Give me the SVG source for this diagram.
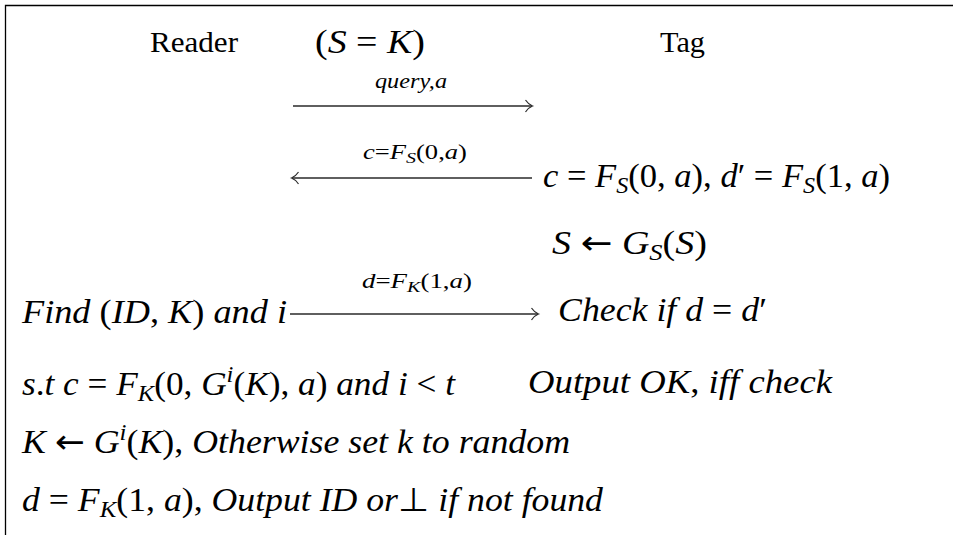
<svg xmlns="http://www.w3.org/2000/svg" width="953" height="535" viewBox="0 0 953 535">
<style>
text{fill:#000;white-space:pre}
.h{font-size:30px}
.m{font-size:33px}
.l{font-size:20px}
.i{font-style:italic}
.s{font-size:23px}
.ls{font-size:15px}
.ar{font-family:"DejaVu Sans",sans-serif;font-style:normal}
.frame{stroke:#000;stroke-width:1.3;fill:none}
.conn{stroke:#2a2a2a;stroke-width:1.3;fill:none}
</style>
<defs>
<marker id="ah" markerWidth="14" markerHeight="14" refX="10" refY="7" orient="auto" markerUnits="userSpaceOnUse">
<path d="M3.5,1 Q6.5,5.5 10.5,7 Q6.5,8.5 3.5,13" fill="none" stroke="#2a2a2a" stroke-width="1.2"/>
</marker>
</defs>
<rect width="953" height="535" fill="#fff"/>
<g id="frame"><path class="frame" d="M5.5,535 V5.5 H953"/></g>

<g id="header" font-family="Liberation Serif, serif">
<text id="reader" class="h" x="150" y="52" textLength="88" lengthAdjust="spacingAndGlyphs">Reader</text>
<text id="init" class="m" x="315" y="53" textLength="110" lengthAdjust="spacingAndGlyphs">(<tspan class="i">S</tspan> = <tspan class="i">K</tspan>)</text>
<text id="tag" class="h" x="660" y="52" textLength="45" lengthAdjust="spacingAndGlyphs">Tag</text>
</g>

<g id="connectors" font-family="Liberation Serif, serif">
<line class="conn" x1="293" y1="106" x2="532" y2="106" marker-end="url(#ah)"/>
<line class="conn" x1="532" y1="178" x2="292" y2="178" marker-end="url(#ah)"/>
<line class="conn" x1="290" y1="314" x2="538" y2="314" marker-end="url(#ah)"/>
<text class="l i" x="375" y="88" textLength="72" lengthAdjust="spacingAndGlyphs">query,a</text>
<text class="l" x="363" y="159" textLength="104" lengthAdjust="spacingAndGlyphs"><tspan class="i">c</tspan>=<tspan class="i">F</tspan><tspan class="i ls" dy="4">S</tspan><tspan dy="-4">(0,</tspan><tspan class="i">a</tspan>)</text>
<text class="l" x="362" y="288" textLength="110" lengthAdjust="spacingAndGlyphs"><tspan class="i">d</tspan>=<tspan class="i">F</tspan><tspan class="i ls" dy="4">K</tspan><tspan dy="-4">(1,</tspan><tspan class="i">a</tspan>)</text>
</g>

<g id="tag-compute" font-family="Liberation Serif, serif">
<text class="m" x="543" y="187" textLength="347" lengthAdjust="spacingAndGlyphs"><tspan class="i">c</tspan> = <tspan class="i">F</tspan><tspan class="i s" dy="6">S</tspan><tspan dy="-6">(0, </tspan><tspan class="i">a</tspan>), <tspan class="i">d</tspan>′ = <tspan class="i">F</tspan><tspan class="i s" dy="6">S</tspan><tspan dy="-6">(1, </tspan><tspan class="i">a</tspan>)</text>
</g>
<g id="tag-update" font-family="Liberation Serif, serif">
<text class="m" x="552" y="254" textLength="155" lengthAdjust="spacingAndGlyphs"><tspan class="i">S</tspan> <tspan class="ar">←</tspan> <tspan class="i">G</tspan><tspan class="i s" dy="6">S</tspan><tspan dy="-6">(</tspan><tspan class="i">S</tspan>)</text>
</g>
<g id="reader-find" font-family="Liberation Serif, serif">
<text class="m" x="22" y="323" textLength="265" lengthAdjust="spacingAndGlyphs"><tspan class="i">Find</tspan> (<tspan class="i">ID</tspan>, <tspan class="i">K</tspan>) <tspan class="i">and i</tspan></text>
</g>
<g id="tag-check" font-family="Liberation Serif, serif">
<text class="m" x="558" y="321" textLength="209" lengthAdjust="spacingAndGlyphs"><tspan class="i">Check if d</tspan> = <tspan class="i">d</tspan>′</text>
</g>
<g id="reader-st" font-family="Liberation Serif, serif">
<text class="m" x="22" y="395" textLength="433" lengthAdjust="spacingAndGlyphs"><tspan class="i">s</tspan>.<tspan class="i">t c</tspan> = <tspan class="i">F</tspan><tspan class="i s" dy="6">K</tspan><tspan dy="-6">(0, </tspan><tspan class="i">G</tspan><tspan class="i s" dy="-13">i</tspan><tspan dy="13">(</tspan><tspan class="i">K</tspan>), <tspan class="i">a</tspan>) <tspan class="i">and i</tspan> &lt; <tspan class="i">t</tspan></text>
</g>
<g id="tag-output" font-family="Liberation Serif, serif">
<text class="m" x="528" y="393" textLength="304" lengthAdjust="spacingAndGlyphs"><tspan class="i">Output OK</tspan>, <tspan class="i">iff check</tspan></text>
</g>
<g id="reader-update" font-family="Liberation Serif, serif">
<text class="m" x="22" y="453" textLength="548" lengthAdjust="spacingAndGlyphs"><tspan class="i">K</tspan> <tspan class="ar">←</tspan> <tspan class="i">G</tspan><tspan class="i s" dy="-13">i</tspan><tspan dy="13">(</tspan><tspan class="i">K</tspan>), <tspan class="i">Otherwise set k to random</tspan></text>
</g>
<g id="reader-output" font-family="Liberation Serif, serif">
<text class="m" x="22" y="511" textLength="581" lengthAdjust="spacingAndGlyphs"><tspan class="i">d</tspan> = <tspan class="i">F</tspan><tspan class="i s" dy="6">K</tspan><tspan dy="-6">(1, </tspan><tspan class="i">a</tspan>), <tspan class="i">Output ID or</tspan>⊥ <tspan class="i">if not found</tspan></text>
</g>
</svg>
